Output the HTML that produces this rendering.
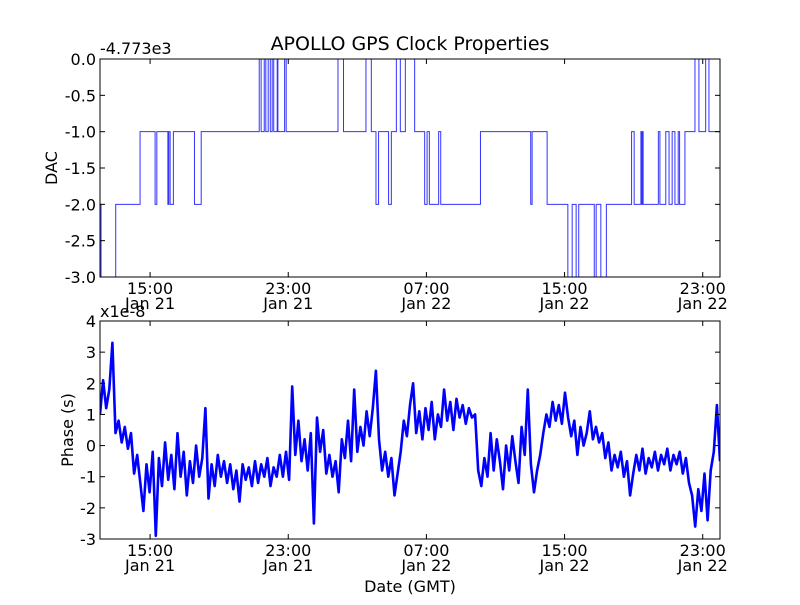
<!DOCTYPE html>
<html><head><meta charset="utf-8"><style>
body{margin:0;background:#fff;}
svg text{font-family:"DejaVu Sans","Liberation Sans",sans-serif;font-size:16px;fill:#000;}
</style></head><body>
<svg id="chart" width="800" height="600" viewBox="0 0 800 600" xmlns="http://www.w3.org/2000/svg">
<rect width="800" height="600" fill="#fff"/>
<text x="410" y="50" text-anchor="middle" style="font-size:19px">APOLLO GPS Clock Properties</text>
<text x="100" y="54">-4.773e3</text>
<text x="100" y="317">x1e-8</text>
<text transform="translate(57,168) rotate(-90)" text-anchor="middle">DAC</text>
<text transform="translate(73,430) rotate(-90)" text-anchor="middle">Phase (s)</text>
<text x="410" y="592" text-anchor="middle">Date (GMT)</text>
<g id="top"></g>
<g id="bot"></g>
</svg>
<script>
const xTickHours = [15, 23, 31, 39, 47];
const xTickTimes = ["15:00", "23:00", "07:00", "15:00", "23:00"];
const xTickDates = ["Jan 21", "Jan 21", "Jan 22", "Jan 22", "Jan 22"];
const dacTicks = [0, -0.5, -1, -1.5, -2, -2.5, -3];
const dacTickLabels = ["0.0", "-0.5", "-1.0", "-1.5", "-2.0", "-2.5", "-3.0"];
const phaseTicks = [4, 3, 2, 1, 0, -1, -2, -3];
const phaseTickLabels = ["4", "3", "2", "1", "0", "-1", "-2", "-3"];
const dacTimes = [12.10,12.16,13.01,14.42,15.29,15.39,16.03,16.08,16.16,16.35,17.57,17.96,21.32,21.43,21.61,21.70,21.84,21.96,22.07,22.16,22.36,22.40,22.79,22.88,25.88,26.20,27.50,27.81,28.08,28.23,28.81,28.97,29.26,29.49,29.78,30.32,30.90,31.04,31.17,31.71,31.83,34.13,37.04,37.12,37.99,39.19,39.44,39.67,39.82,40.72,40.83,41.10,41.42,42.88,43.03,43.42,43.45,43.50,43.55,44.43,44.52,44.86,45.05,45.23,45.39,45.58,45.66,45.97,46.55,46.78,47.17,47.36];
const dacValues = [-2,-3,-2,-1,-2,-1,-2,-1,-2,-1,-2,-1,0,-1,0,-1,0,-1,0,-1,0,-1,0,-1,0,-1,0,-1,-2,-1,-2,-1,0,-1,0,-1,-2,-1,-2,-1,-2,-1,-2,-1,-2,-3,-2,-3,-2,-3,-2,-3,-2,-1,-2,-1,-2,-1,-2,-1,-2,-1,-2,-1,-2,-1,-2,-1,0,-1,0,-1];
const phaseStartHour = 12.1;
const phaseStepHour = 0.1795;
const phaseValues = [1.0,2.1,1.2,1.8,3.3,0.4,0.8,0.1,0.6,-0.1,0.4,-0.9,-0.3,-1.2,-2.1,-0.6,-1.5,-0.2,-2.9,-0.4,-1.3,0.1,-1.1,-0.3,-1.4,0.4,-1.0,-0.2,-1.6,-0.5,-1.2,0.0,-1.0,-0.4,1.2,-1.7,-0.6,-1.3,-0.3,-1.0,-0.5,-1.2,-0.6,-1.4,-0.8,-1.8,-0.6,-1.1,-0.7,-1.3,-0.5,-1.2,-0.6,-1.0,-0.4,-1.3,-0.7,-1.0,-0.3,-1.0,-0.2,-1.1,1.9,-0.3,0.8,-0.5,0.2,-0.8,0.4,-2.5,0.9,-0.2,0.5,-0.9,-0.3,-1.0,-0.5,-1.5,0.2,-0.4,0.8,-0.5,1.8,-0.2,0.6,0.0,1.1,0.3,1.2,2.4,0.2,-0.8,-0.2,-1.0,-0.4,-1.6,-0.9,-0.2,0.8,0.3,1.3,2.0,0.4,1.1,0.2,1.2,0.5,1.4,0.2,1.0,0.6,1.8,0.8,1.4,0.5,1.5,0.9,1.3,0.7,1.2,0.9,1.0,-0.8,-1.3,-0.4,-1.0,0.4,-0.8,0.2,-0.5,-1.4,0.0,-0.8,0.3,-0.5,-1.2,0.6,-0.3,1.8,-0.6,-1.5,-0.8,-0.3,0.4,1.0,0.6,1.4,0.8,1.3,0.7,1.7,0.9,0.3,0.8,-0.3,0.6,0.0,0.4,1.1,0.2,0.6,0.1,0.4,-0.4,0.1,-0.8,-0.3,-0.7,-0.2,-1.0,-0.5,-1.6,-0.9,-0.3,-0.8,-0.1,-0.9,-0.4,-0.7,-0.2,-0.8,-0.3,-0.6,-0.1,-0.8,-0.3,-0.6,-0.2,-0.9,-0.4,-1.2,-1.6,-2.6,-1.4,-2.1,-0.9,-2.4,-0.8,-0.2,1.3,-0.5];

const NS = "http://www.w3.org/2000/svg";
const X0 = 100, X1 = 720, H0 = 12.1, H1 = 48.0;
const xScale = h => X0 + (h - H0) * (X1 - X0) / (H1 - H0);
const topY = v => 59 + (0 - v) * (277 - 59) / 3;
const botY = v => 321 + (4 - v) * (539 - 321) / 7;
function mk(tag, attrs, parent) {
  const e = document.createElementNS(NS, tag);
  for (const k in attrs) e.setAttribute(k, attrs[k]);
  parent.appendChild(e);
  return e;
}
function panel(g, y0, y1, yScale, ticks, labels, prefix) {
  const clipId = prefix + "-clip";
  const cp = mk("clipPath", {id: clipId}, g);
  mk("rect", {x: X0, y: y0, width: X1 - X0, height: y1 - y0}, cp);
  const series = mk("g", {"clip-path": "url(#" + clipId + ")"}, g);
  
  
  ticks.forEach((t, i) => {
    const y = yScale(t);
    const l = mk("line", {x1: X0, x2: X0 + 5, y1: y, y2: y, stroke: "#000"}, g);
    
    
    mk("line", {x1: X1, x2: X1 - 5, y1: y, y2: y, stroke: "#000"}, g);
    const tx = mk("text", {x: X0 - 4, y: y + 6, "text-anchor": "end"}, g);
    tx.textContent = labels[i];
    
    
  });
  xTickHours.forEach((h, i) => {
    const x = xScale(h);
    mk("line", {x1: x, x2: x, y1: y1, y2: y1 - 5, stroke: "#000"}, g);
    mk("line", {x1: x, x2: x, y1: y0, y2: y0 + 5, stroke: "#000"}, g);
    const t1 = mk("text", {x: x, y: y1 + 17, "text-anchor": "middle"}, g);
    t1.textContent = xTickTimes[i];
    
    
    const t2 = mk("text", {x: x, y: y1 + 32, "text-anchor": "middle"}, g);
    t2.textContent = xTickDates[i];
    
    
  });
  const fr = mk("rect", {x: X0, y: y0, width: X1 - X0, height: y1 - y0, fill: "none", stroke: "#000", "stroke-width": 1}, g);
  
  
  return series;
}
const topG = document.getElementById("top");
const botG = document.getElementById("bot");
const topSeries = panel(topG, 59, 277, topY, dacTicks, dacTickLabels, "dac");
const botSeries = panel(botG, 321, 539, botY, phaseTicks, phaseTickLabels, "phase");

let d = "";
dacTimes.forEach((t, i) => {
  const x = xScale(t), y = topY(dacValues[i]);
  if (i === 0) d += "M" + x + " " + y;
  else d += " L" + x + " " + topY(dacValues[i - 1]) + " L" + x + " " + y;
});
d += " L" + xScale(H1 + 0.2) + " " + topY(dacValues[dacValues.length - 1]);
const dacLine = mk("path", {d: d, fill: "none", stroke: "#3333ff", "stroke-width": 1}, topSeries);



const pts = phaseValues.map((v, i) => xScale(phaseStartHour + i * phaseStepHour) + "," + botY(v)).join(" ");
const phLine = mk("polyline", {points: pts, fill: "none", stroke: "#0000ff", "stroke-width": 2.6, "stroke-linejoin": "round"}, botSeries);


</script>
</body></html>
